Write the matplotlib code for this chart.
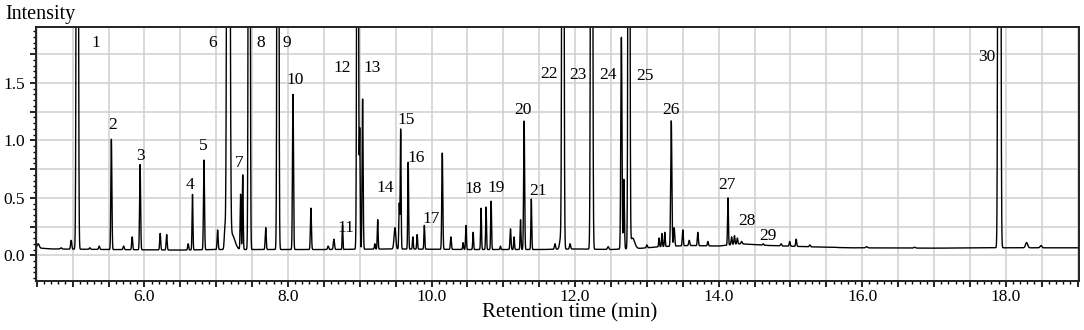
import matplotlib
matplotlib.use("Agg")
import matplotlib.pyplot as plt
from matplotlib.ticker import MultipleLocator, FuncFormatter
import numpy as np

plt.rcParams["font.family"] = ["Liberation Serif", "DejaVu Serif"]

# =====================================================
# Data
# =====================================================
# peak retention times (min), apex intensity, peak sigma (min)
peak_rt = [4.52, 4.84, 4.98, 5.065, 5.24, 5.37, 5.54, 5.71, 5.83, 5.94,
           6.22, 6.31, 6.61, 6.67, 6.83, 7.02, 7.12, 7.17, 7.22, 7.34,
           7.37, 7.46, 7.69, 7.86, 8.07, 8.32, 8.56, 8.64, 8.76, 8.97,
           9.00, 9.04, 9.21, 9.25, 9.49, 9.55, 9.57, 9.675, 9.74, 9.80,
           9.90, 10.15, 10.27, 10.44, 10.48, 10.58, 10.69, 10.76, 10.83, 10.96,
           11.10, 11.15, 11.24, 11.29, 11.39, 11.72, 11.80, 11.83, 11.93, 12.23,
           12.46, 12.645, 12.68, 12.75, 12.80, 13.00, 13.17, 13.21, 13.25, 13.34,
           13.38, 13.50, 13.59, 13.71, 13.85, 14.13, 14.18, 14.22, 14.26, 14.32,
           14.62, 14.87, 14.99, 15.08, 15.27, 15.62, 16.06, 16.73, 17.91, 18.29,
           18.49]
peak_apex = [0.10, 0.065, 0.13, 12.0, 0.065, 0.08, 1.01, 0.08, 0.16, 0.79,
             0.19, 0.18, 0.10, 0.53, 0.83, 0.22, 0.22, 15.0, 0.18, 0.53,
             0.70, 12.0, 0.24, 12.0, 1.40, 0.41, 0.08, 0.14, 0.26, 8.0,
             1.08, 1.36, 0.10, 0.31, 0.24, 0.45, 1.10, 0.81, 0.16, 0.18,
             0.26, 0.89, 0.16, 0.11, 0.26, 0.20, 0.41, 0.42, 0.47, 0.08,
             0.23, 0.16, 0.31, 1.17, 0.49, 0.10, 0.15, 12.0, 0.10, 12.0,
             0.075, 1.90, 0.66, 12.0, 0.15, 0.09, 0.15, 0.19, 0.20, 1.17,
             0.24, 0.22, 0.13, 0.20, 0.12, 0.50, 0.16, 0.17, 0.15, 0.12,
             0.10, 0.10, 0.12, 0.14, 0.09, 0.07, 0.075, 0.07, 30.0, 0.11,
             0.085]
peak_sigma = [0.015, 0.01, 0.008, 0.010, 0.008, 0.008, 0.007, 0.008, 0.007, 0.007,
              0.007, 0.007, 0.007, 0.006, 0.007, 0.007, 0.008, 0.014, 0.04, 0.006,
              0.006, 0.009, 0.007, 0.009, 0.007, 0.007, 0.008, 0.008, 0.005, 0.009,
              0.006, 0.007, 0.006, 0.006, 0.012, 0.006, 0.006, 0.006, 0.006, 0.006,
              0.006, 0.007, 0.007, 0.006, 0.006, 0.006, 0.006, 0.006, 0.006, 0.006,
              0.007, 0.006, 0.006, 0.007, 0.006, 0.008, 0.015, 0.010, 0.008, 0.010,
              0.01, 0.008, 0.007, 0.009, 0.03, 0.008, 0.006, 0.006, 0.006, 0.008,
              0.008, 0.007, 0.008, 0.007, 0.007, 0.006, 0.007, 0.007, 0.007, 0.008,
              0.008, 0.008, 0.007, 0.007, 0.008, 0.01, 0.012, 0.012, 0.011, 0.015,
              0.012]

# baseline level
base_rt = [4.49, 4.7, 5.5, 6.5, 7.0, 7.6, 8.5, 9.5, 10.5, 11.5, 12.0, 12.5,
           12.9, 13.2, 13.6, 14.0, 14.3, 14.7, 15.2, 15.8, 17.0, 17.8, 19.02]
base_level = [0.065, 0.055, 0.05, 0.045, 0.05, 0.05, 0.05, 0.055, 0.05, 0.05, 0.055, 0.05,
              0.06, 0.075, 0.085, 0.08, 0.10, 0.085, 0.075, 0.065, 0.062, 0.065, 0.065]

# peak numbers
label_text = [str(i) for i in range(1, 31)]
label_x = [5.32, 5.56, 5.94, 6.63, 6.82, 6.945, 7.32, 7.62, 7.99, 8.10,
           8.81, 8.76, 9.17, 9.35, 9.64, 9.78, 10.0, 10.58, 10.90, 11.27,
           11.49, 11.64, 12.04, 12.46, 12.97, 13.33, 14.11, 14.39, 14.69, 17.73]
label_y = [1.845, 1.134, 0.864, 0.612, 0.951, 1.845, 0.806, 1.845, 1.845, 1.526,
           0.24, 1.633, 1.633, 0.588, 1.18, 0.85, 0.316, 0.574, 0.583, 1.265,
           0.562, 1.578, 1.569, 1.569, 1.56, 1.265, 0.612, 0.301, 0.168, 1.723]

# =====================================================
# Build trace
# =====================================================
t = np.linspace(4.49, 19.02, 16000)
signal = np.interp(t, base_rt, base_level)
for rt, apex, s in zip(peak_rt, peak_apex, peak_sigma):
    amp = apex - np.interp(rt, base_rt, base_level)
    signal = signal + amp * np.exp(-0.5 * ((t - rt) / s) ** 2)

# =====================================================
# Plot
# =====================================================
fig = plt.figure(figsize=(10.84, 3.30), dpi=100)
ax = fig.add_axes([36 / 1084, 1 - 281 / 330, (1079 - 36) / 1084, (281 - 27) / 330])

ax.plot(t, signal, color="black", lw=1.0)

ax.set_xlim(4.49, 19.02)
ax.set_ylim(-0.224, 1.987)

ax.xaxis.set_major_locator(MultipleLocator(0.5))
ax.xaxis.set_minor_locator(MultipleLocator(0.1))
ax.yaxis.set_major_locator(MultipleLocator(0.25))
ax.yaxis.set_minor_locator(MultipleLocator(0.05))
ax.xaxis.set_major_formatter(FuncFormatter(
    lambda v, p: f"{v:.1f}" if abs(v / 2 - round(v / 2)) < 1e-6 else ""))
ax.yaxis.set_major_formatter(FuncFormatter(
    lambda v, p: f"{v:.1f}" if abs(v * 2 - round(v * 2)) < 1e-6 else ""))

ax.grid(which="major", color="#d0d0d0", lw=1.1)
ax.set_axisbelow(True)
ax.tick_params(which="major", length=4, width=1.2, labelsize=12.5, pad=2)
ax.tick_params(which="minor", length=2, width=1.0)
ax.tick_params(axis="y", which="major", pad=4)
for sp in ax.spines.values():
    sp.set_linewidth(1.4)
    sp.set_color("#222222")

for txt, x, y in zip(label_text, label_x, label_y):
    ax.text(x, y, txt, ha="center", va="center", fontsize=12.5)

fig.text(5 / 1084, 1 - 14 / 330, "Intensity", ha="left", va="center", fontsize=14.5)
fig.text(570 / 1084, 1 - 313 / 330, "Retention time (min)", ha="center", va="center", fontsize=15)

plt.savefig("out.png", dpi=100)
plt.close()
